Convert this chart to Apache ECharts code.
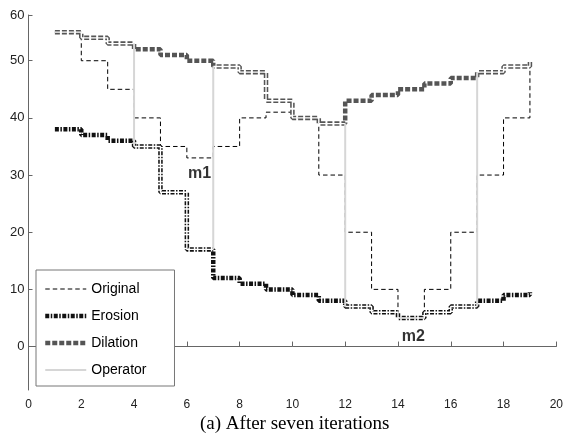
<!DOCTYPE html>
<html><head><meta charset="utf-8">
<script src="https://cdn.jsdelivr.net/npm/echarts@6/dist/echarts.min.js"></script>
<style>html,body{margin:0;padding:0;background:#fff}#c{width:566px;height:444px}</style>
</head><body><div id="c"></div>
<script>
// ---- data ----
const xPositions = [1,2,3,4,5,6,7,8,9,10,11,12,13,14,15,16,17,18,19];
const original = [55,50,45,40,35,33,35,40,41,40,30,20,10,5,10,20,30,40,50];
const erosion  = [38,37,36,35,27,17,12,11,10,9,8,7,6,5,6,7,8,9,9.5];
const dilation = [55,54,53,52,51,50,49,48,43,40,39,43,44,45,46,47,48,49,50];
// which curve is the current result on each step (D = dilation, E = erosion)
const resultSource = ['D','D','D','E','E','E','D','D','D','D','D','E','E','E','E','E','D','D','D'];
const xTickValues = [0,2,4,6,8,10,12,14,16,18,20];
const yTickValues = [0,10,20,30,40,50,60];
const annotations = [
  {text:'m1', x:6.48, y:30.2},
  {text:'m2', x:14.58, y:1.8}
];

// ---- layout / style constants ----
const Y_MIN = -7.6, Y_TOP = 58;   // axis top shows the "60" label
const styles = {
  Original: {color: '#000', width: 1, type: [4.5, 3]},
  Erosion:  {color: '#111', width: 4.5, type: [4, 1.5, 1.5, 1.5], cap: 'butt'},
  Dilation: {color: '#555', width: 4.5, type: [5, 2], cap: 'butt'},
  Operator: {color: '#d6d6d6', width: 2, type: 'solid'}
};

function stairs(xs, vs) {
  const pts = [];
  for (let i = 0; i < xs.length; i++) {
    if (i > 0) pts.push([xs[i], vs[i-1]]);
    pts.push([xs[i], vs[i]]);
  }
  return pts;
}
const gap = (x) => [x, '-'];

const resultPts = [];
const operatorPts = [];
const valOf = (i) => resultSource[i] === 'D' ? dilation[i] : erosion[i];
for (let i = 0; i < xPositions.length; i++) {
  if (i > 0 && resultSource[i] !== resultSource[i-1]) {
    resultPts.push([xPositions[i], valOf(i-1)]);
    resultPts.push(gap(xPositions[i]));
    operatorPts.push([xPositions[i], valOf(i-1)]);
    operatorPts.push([xPositions[i], valOf(i)]);
    operatorPts.push(gap(xPositions[i]));
  } else if (i > 0) {
    resultPts.push([xPositions[i], valOf(i-1)]);
  }
  resultPts.push([xPositions[i], valOf(i)]);
}

const yLabelPos = yTickValues.map(v => Math.min(v, Y_TOP));
const yLabelText = {};
yTickValues.forEach((v, i) => { yLabelText[yLabelPos[i]] = String(v); });

const legendNames = ['Original','Erosion','Dilation','Operator'];

const chart = echarts.init(document.getElementById('c'), null, {renderer: 'canvas'});
chart.setOption({
  animation: false,
  backgroundColor: '#fff',
  textStyle: {fontFamily: 'Liberation Sans'},
  title: {
    text: '(a) After seven iterations',
    left: 200, top: 415,
    padding: 0,
    textStyle: {fontFamily: 'Liberation Serif', fontSize: 19, fontWeight: 'normal', color: '#000'}
  },
  grid: {left: 28.5, right: 6, top: 15, bottom: 54},
  legend: {
    data: legendNames.map(n => ({
      name: n,
      lineStyle: {color: styles[n].color, width: styles[n].width, type: styles[n].type, cap: 'butt'}
    })),
    orient: 'vertical',
    left: 36, top: 270,
    backgroundColor: '#fff',
    borderColor: '#777', borderWidth: 1, borderRadius: 0,
    padding: [12, 28, 9, 7],
    itemWidth: 41, itemHeight: 14, itemGap: 13,
    itemStyle: {opacity: 0},
    textStyle: {fontSize: 14, color: '#000', fontFamily: 'Liberation Sans'}
  },
  xAxis: {
    type: 'value', min: 0, max: 20, interval: 2,
    axisLine: {lineStyle: {color: '#666', width: 1}},
    axisTick: {inside: true, length: 5, lineStyle: {color: '#666'}},
    axisLabel: {fontSize: 12, color: '#222', margin: 9, customValues: xTickValues},
    splitLine: {show: false}
  },
  yAxis: {
    type: 'value', min: Y_MIN, max: Y_TOP,
    axisLine: {show: true, lineStyle: {color: '#666', width: 1}},
    axisTick: {show: true, inside: true, length: 4, lineStyle: {color: '#666'}, customValues: yLabelPos},
    axisLabel: {fontSize: 13, color: '#222', margin: 4, customValues: yLabelPos,
      formatter: (v) => yLabelText[v] !== undefined ? yLabelText[v] : ''},
    splitLine: {show: false}
  },
  series: [
    {name: 'Original', type: 'line', data: stairs(xPositions, original), symbol: 'none',
      itemStyle: {color: styles.Original.color}, lineStyle: styles.Original, z: 2},
    {name: 'Erosion', type: 'line', data: stairs(xPositions, erosion), symbol: 'none',
      itemStyle: {color: styles.Erosion.color}, lineStyle: styles.Erosion, z: 3},
    {name: 'Dilation', type: 'line', data: stairs(xPositions, dilation), symbol: 'none',
      itemStyle: {color: styles.Dilation.color}, lineStyle: styles.Dilation, z: 3},
    {name: 'Result', type: 'line', data: resultPts, symbol: 'none', connectNulls: false,
      lineStyle: {color: '#fff', width: 1.4}, z: 4},
    {name: 'Operator', type: 'line', data: operatorPts, symbol: 'none', connectNulls: false,
      itemStyle: {color: styles.Operator.color}, lineStyle: styles.Operator, z: 5},
    {name: 'Labels', type: 'scatter', symbolSize: 0, silent: true, z: 6,
      data: annotations.map(a => ({value: [a.x, a.y], name: a.text})),
      label: {show: true, position: 'inside', formatter: '{b}', fontSize: 16, fontWeight: 'bold',
        color: '#000', fontFamily: 'Liberation Sans'}}
  ]
});
</script></body></html>
